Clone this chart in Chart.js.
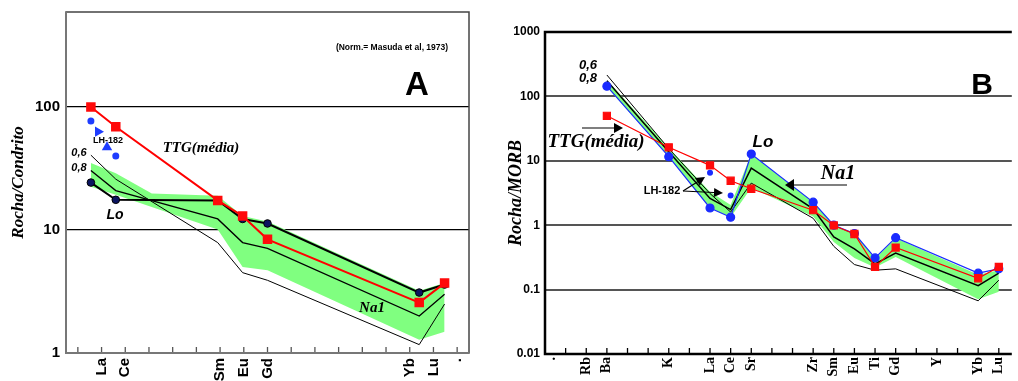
<!DOCTYPE html>
<html>
<head>
<meta charset="utf-8">
<script src="https://cdn.jsdelivr.net/npm/chart.js@4.4.0/dist/chart.umd.min.js"></script>
<style>
html, body { margin: 0; padding: 0; background: #fff; }
#wrap { position: relative; width: 1018px; height: 381px; overflow: hidden; }
#chartA { position: absolute; left: 0; top: 0; width: 480px; height: 381px; }
#chartB { position: absolute; left: 480px; top: 0; width: 538px; height: 381px; }
</style>
</head>
<body>
<div id="wrap">
  <canvas id="chartA" width="480" height="381"></canvas>
  <canvas id="chartB" width="538" height="381"></canvas>
</div>
<script>
// ---------- PANEL A : REE / chondrite ----------
const tickPosA = [1, 2, 6, 7, 8, 14, 15, 16];
const tickLabA = ["La", "Ce", "Sm", "Eu", "Gd", "Yb", "Lu", "."];
const yTicksA = [1, 10, 100];
// x positions where the samples were plotted (La, Ce, Sm, Eu, Gd, Yb, Lu)
const elemPosA = [0.55, 1.6, 5.9, 6.95, 8.0, 14.4, 15.47];
const ttgA  = [100, 69, 17.4, 13, 8.4, 2.57, 3.7];
const loA   = [24.3, 17.6, 17.4, 12.3, 11.3, 3.1, 3.6];
const na06A = [40.6, 25.9, 7.9, 4.5, 3.9, 1.17, 2.5];
const na08A = [30.5, 20.9, 12.3, 7.9, 7.1, 2.0, 3.0];
const bandTopPosA = [0.55, 1.6, 3.12, 5.9, 6.95, 8.0, 14.4, 15.47];
const bandTopA = [35, 28.9, 19.8, 19, 13, 11.7, 3.2, 3.7];
const bandBotA = [22.5, 19.3, 10.1, 5.0, 4.7, 1.28, 1.49];
const lhPosA = [0.55, 1.6];
const lhA = [77, 40];
const lhArrowPosA = [0.85, 1.23];
const lhArrowA = [63, 47];

// ---------- PANEL B : spider / MORB ----------
const tickPosB = [-0.7, 1, 2, 5, 7, 8, 9, 12, 13, 14, 15, 16, 18, 20, 21];
const tickLabB = [".", "Rb", "Ba", "K", "La", "Ce", "Sr", "Zr", "Sm", "Eu", "Ti", "Gd", "Y", "Yb", "Lu"];
const yTicksB = [0.01, 0.1, 1, 10, 100, 1000];
const yLabB = ["0.01", "0.1", "1", "10", "100", "1000"];
// Ba, K, La, Ce, Sr, Zr, Sm, Eu, Ti, Gd, Yb, Lu
const elemPosB = [2, 5, 7, 8, 9, 12, 13, 14, 15, 16, 20, 21];
const loB   = [144, 11.6, 1.85, 1.33, 12.7, 2.28, 1.0, 0.74, 0.31, 0.64, 0.18, 0.21];
const ttgB  = [50, 16.2, 8.5, 4.9, 3.68, 1.71, 0.99, 0.73, 0.225, 0.45, 0.15, 0.225];
const na06B = [215, 15.5, 3.1, 1.6, 4.5, 1.28, 0.47, 0.245, 0.2, 0.21, 0.067, 0.14];
const na08B = [175, 13.8, 2.6, 1.75, 7.7, 1.8, 0.66, 0.43, 0.25, 0.37, 0.115, 0.18];
const bandTopB = [180, 16, 3.3, 2.05, 12.6, 2.3, 1.0, 0.75, 0.3, 0.63, 0.17, 0.2];
const bandBotB = [140, 11.6, 1.85, 1.33, 3.8, 1.36, 0.55, 0.31, 0.22, 0.32, 0.071, 0.093];
const lhPosB = [7, 8];
const lhB = [6.5, 2.9];

const SANS = "'Liberation Sans', Arial, sans-serif";
const SERIF = "'Liberation Serif', 'Times New Roman', serif";
const GREEN = "#80ff80";

const pts = (xs, ys) => xs.map((x, i) => ({ x: x, y: ys[i] }));

function txt(ctx, s, x, y, font, align) {
    ctx.font = font;
    ctx.fillStyle = "#000";
    ctx.textAlign = align || "center";
    ctx.textBaseline = "middle";
    ctx.fillText(s, x, y);
}

function arrow(ctx, x1, y1, x2, y2, len, w) {
    const a = Math.atan2(y2 - y1, x2 - x1);
    ctx.strokeStyle = "#000";
    ctx.lineWidth = 1.2;
    ctx.beginPath();
    ctx.moveTo(x1, y1);
    ctx.lineTo(x2 - Math.cos(a) * len * 0.5, y2 - Math.sin(a) * len * 0.5);
    ctx.stroke();
    ctx.save();
    ctx.translate(x2, y2);
    ctx.rotate(a);
    ctx.beginPath();
    ctx.moveTo(0, 0);
    ctx.lineTo(-len, -w / 2);
    ctx.lineTo(-len, w / 2);
    ctx.closePath();
    ctx.fillStyle = "#000";
    ctx.fill();
    ctx.restore();
}

// small tick marks pointing up into the plot from the bottom axis
function innerTicks(values, len, color) {
    return {
        id: "innerTicks",
        beforeDatasetsDraw(chart) {
            const { ctx, chartArea, scales } = chart;
            ctx.save();
            ctx.strokeStyle = color;
            ctx.lineWidth = 1.3;
            values.forEach(v => {
                const x = scales.x.getPixelForValue(v);
                ctx.beginPath();
                ctx.moveTo(x, chartArea.bottom);
                ctx.lineTo(x, chartArea.bottom - len);
                ctx.stroke();
            });
            ctx.restore();
        }
    };
}

function lineSet(data, color, width, order, extra) {
    return Object.assign({
        data: data, borderColor: color, backgroundColor: color,
        borderWidth: width, pointRadius: 0, fill: false, order: order, tension: 0
    }, extra || {});
}

const intsA = Array.from({ length: 17 }, (_, i) => i);
const intsB = Array.from({ length: 22 }, (_, i) => i);

// ---------- CHART A ----------
new Chart(document.getElementById("chartA"), {
    type: "line",
    data: {
        datasets: [
            lineSet(pts(elemPosA, bandBotA), "rgba(0,0,0,0)", 0, 20),
            lineSet(pts(bandTopPosA, bandTopA), "rgba(0,0,0,0)", 0, 19, { fill: "-1", backgroundColor: GREEN }),
            lineSet(pts(elemPosA, na06A), "#000", 1, 10),
            lineSet(pts(elemPosA, na08A), "#000", 1.3, 9),
            lineSet(pts(elemPosA, loA), "#000", 2, 5, {
                pointRadius: 3.8, pointBackgroundColor: "#0b1560", pointBorderColor: "#000", pointBorderWidth: 1
            }),
            lineSet(pts(elemPosA, ttgA), "#ff0000", 2, 4, {
                pointRadius: 5.3, pointStyle: "rect", pointBackgroundColor: "#ff0a0a", pointBorderColor: "#ff0a0a"
            }),
            lineSet(pts(lhPosA, lhA), "#1e3cff", 0, 3, { showLine: false, pointRadius: 3.5 }),
            lineSet(pts(lhArrowPosA, lhArrowA), "#1e3cff", 0, 3, {
                showLine: false, pointRadius: 6, pointStyle: "triangle", pointRotation: [90, 0]
            })
        ]
    },
    options: {
        responsive: false,
        animation: false,
        events: [],
        layout: { padding: { top: 12, right: 11, left: 0, bottom: 0 } },
        plugins: { legend: { display: false }, tooltip: { enabled: false } },
        scales: {
            x: {
                type: "linear", min: -0.5, max: 16.5,
                afterBuildTicks: s => { s.ticks = tickPosA.map(v => ({ value: v })); },
                afterFit: s => { s.height = 28; s.paddingLeft = 0; s.paddingRight = 0; },
                grid: { display: false, drawTicks: false },
                border: { display: false },
                ticks: {
                    autoSkip: false, minRotation: 90, maxRotation: 90, padding: 5, color: "#000",
                    font: { family: SANS, size: 15, weight: "bold" },
                    callback: v => tickLabA[tickPosA.indexOf(v)] ?? ""
                }
            },
            y: {
                type: "logarithmic", min: 1, max: 592,
                afterBuildTicks: s => { s.ticks = yTicksA.map(v => ({ value: v })); },
                afterFit: s => { s.width = 66; s.paddingTop = 0; s.paddingBottom = 0; },
                grid: {
                    drawTicks: false, lineWidth: 1.2,
                    color: c => (c.tick && c.tick.value === 1) ? "rgba(0,0,0,0)" : "#000"
                },
                border: { display: false },
                ticks: {
                    padding: 6, color: "#000",
                    font: { family: SANS, size: 15, weight: "bold" },
                    callback: v => String(v)
                },
                title: {
                    display: true, text: "Rocha/Condrito", color: "#000",
                    padding: { top: 8, bottom: 0 },
                    font: { family: SERIF, size: 17, weight: "bold", style: "italic" }
                }
            }
        }
    },
    plugins: [
        innerTicks(intsA, 6, "#555"),
        {
            id: "boxA",
            beforeDatasetsDraw(chart) {
                const { ctx, chartArea: a } = chart;
                ctx.save();
                ctx.strokeStyle = "#444";
                ctx.lineWidth = 1.5;
                ctx.strokeRect(a.left, a.top, a.right - a.left, a.bottom - a.top);
                ctx.strokeStyle = "#777";
                ctx.lineWidth = 2;
                ctx.beginPath();
                ctx.moveTo(a.left, a.top);
                ctx.lineTo(a.left, a.bottom);
                ctx.lineTo(a.right, a.bottom);
                ctx.stroke();
                ctx.restore();
            }
        },
        {
            id: "notesA",
            afterDatasetsDraw(chart) {
                const ctx = chart.ctx;
                ctx.save();
                txt(ctx, "(Norm.= Masuda et al, 1973)", 392, 48, "bold 8.5px " + SANS);
                txt(ctx, "A", 417, 86, "bold 33px " + SANS);
                txt(ctx, "TTG(média)", 201, 148, "italic bold 15px " + SERIF);
                txt(ctx, "LH-182", 108, 141, "bold 9px " + SANS);
                txt(ctx, "0,6", 79, 153, "italic bold 11px " + SANS);
                txt(ctx, "0,8", 79, 168, "italic bold 11px " + SANS);
                txt(ctx, "Lo", 115, 215, "italic bold 14px " + SANS);
                txt(ctx, "Na1", 372, 308, "italic bold 15px " + SERIF);
                ctx.restore();
            }
        }
    ]
});

// ---------- CHART B ----------
new Chart(document.getElementById("chartB"), {
    type: "line",
    data: {
        datasets: [
            lineSet(pts(elemPosB, bandBotB), "rgba(0,0,0,0)", 0, 20),
            lineSet(pts(elemPosB, bandTopB), "rgba(0,0,0,0)", 0, 19, { fill: "-1", backgroundColor: GREEN }),
            lineSet(pts(elemPosB, na06B), "#000", 1, 10),
            lineSet(pts(elemPosB, na08B), "#000", 1.5, 9),
            lineSet(pts(elemPosB, loB), "#1a2bff", 1.2, 5, { pointRadius: 4 }),
            lineSet(pts(elemPosB, ttgB), "#ff0000", 1.2, 4, {
                pointRadius: 5, pointStyle: "rect", pointBackgroundColor: "#ff0a0a", pointBorderColor: "#ff0a0a"
            }),
            lineSet(pts(lhPosB, lhB), "#1a2bff", 0, 3, { showLine: false, pointRadius: 3 })
        ]
    },
    options: {
        responsive: false,
        animation: false,
        events: [],
        layout: { padding: { top: 32, right: 0, left: 0, bottom: 0 } },
        plugins: { legend: { display: false }, tooltip: { enabled: false } },
        scales: {
            x: {
                type: "linear", min: -1, max: 21.63,
                afterBuildTicks: s => { s.ticks = tickPosB.map(v => ({ value: v })); },
                afterFit: s => { s.height = 27; s.paddingLeft = 0; s.paddingRight = 0; },
                grid: { display: false, drawTicks: false },
                border: { display: false },
                ticks: {
                    autoSkip: false, minRotation: 90, maxRotation: 90, padding: 3, color: "#000",
                    font: { family: SERIF, size: 14, weight: "bold" },
                    callback: v => tickLabB[tickPosB.indexOf(v)] ?? ""
                }
            },
            y: {
                type: "logarithmic", min: 0.01, max: 1000,
                afterBuildTicks: s => { s.ticks = yTicksB.map(v => ({ value: v })); },
                afterFit: s => { s.width = 65; s.paddingTop = 0; s.paddingBottom = 0; },
                grid: {
                    drawTicks: false, lineWidth: 2,
                    color: c => (c.tick && (c.tick.value === 0.01 || c.tick.value === 1000)) ? "rgba(0,0,0,0)" : "#555"
                },
                border: { display: false },
                ticks: {
                    padding: 5, color: "#000",
                    font: { family: SANS, size: 12, weight: "bold" },
                    callback: v => yLabB[yTicksB.indexOf(v)] ?? ""
                },
                title: {
                    display: true, text: "Rocha/MORB", color: "#000",
                    padding: { top: 26, bottom: 0 },
                    font: { family: SERIF, size: 18, weight: "bold", style: "italic" }
                }
            }
        }
    },
    plugins: [
        innerTicks(intsB, 6, "#000"),
        {
            id: "boxB",
            beforeDatasetsDraw(chart) {
                const { ctx, chartArea: a } = chart;
                ctx.save();
                ctx.strokeStyle = "#000";
                ctx.lineWidth = 2.5;
                ctx.beginPath();
                ctx.moveTo(a.right, a.top);
                ctx.lineTo(a.left, a.top);
                ctx.lineTo(a.left, a.bottom);
                ctx.lineTo(a.right, a.bottom);
                ctx.stroke();
                ctx.restore();
            }
        },
        {
            id: "notesB",
            afterDatasetsDraw(chart) {
                const ctx = chart.ctx;
                ctx.save();
                txt(ctx, "0,6", 108, 65, "italic bold 13px " + SANS);
                txt(ctx, "0,8", 108, 78, "italic bold 13px " + SANS);
                txt(ctx, "TTG(média)", 116, 142, "italic bold 19px " + SERIF);
                arrow(ctx, 102, 128, 143, 128, 9, 10);
                txt(ctx, "Lo", 283, 142, "italic bold 17px " + SANS);
                txt(ctx, "Na1", 358, 174, "italic bold 20px " + SERIF);
                arrow(ctx, 367, 185, 305, 185, 9, 12);
                txt(ctx, "LH-182", 182, 191, "bold 11px " + SANS);
                arrow(ctx, 203, 191, 225, 177, 9, 9);
                arrow(ctx, 203, 191, 243, 193, 9, 9);
                txt(ctx, "B", 502, 86, "bold 30px " + SANS);
                ctx.restore();
            }
        }
    ]
});
</script>
</body>
</html>
